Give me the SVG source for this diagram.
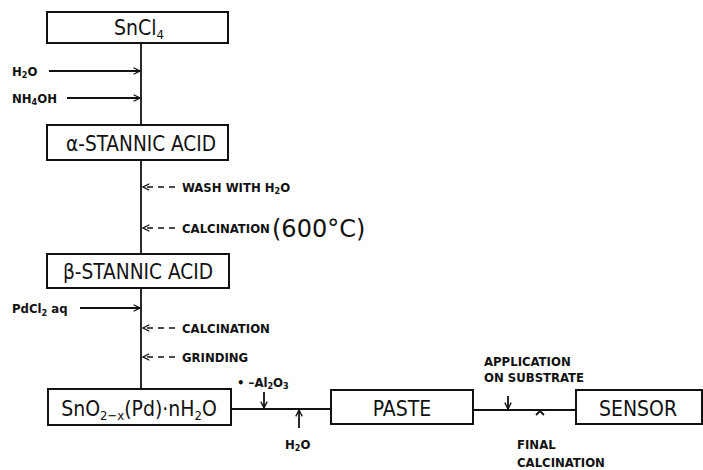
<svg xmlns="http://www.w3.org/2000/svg" width="703" height="470" viewBox="0 0 703 470">
<style>
.box{fill:#fff;stroke:#111;stroke-width:2}
.ln{stroke:#111;stroke-width:1.8;fill:none}
.dash{stroke:#111;stroke-width:1.6;fill:none;stroke-dasharray:6,5}
.bt{font-family:"DejaVu Sans Condensed","DejaVu Sans",sans-serif;font-size:21px;fill:#111;text-anchor:middle}
.lt{font-family:"DejaVu Sans Condensed","DejaVu Sans",sans-serif;font-size:13px;font-weight:bold;fill:#111}
.hw{font-family:"DejaVu Sans","Liberation Sans",sans-serif;font-size:24px;fill:#111}
</style>
<defs>
<marker id="ah" viewBox="0 0 10 10" refX="9" refY="5" markerWidth="8" markerHeight="8" markerUnits="userSpaceOnUse" orient="auto">
<path d="M1,1 L9,5 L1,9" fill="none" stroke="#111" stroke-width="1.6"/>
</marker>
</defs>
<g id="connectors">
<line class="ln" x1="141" y1="43" x2="141" y2="125"/>
<line class="ln" x1="141" y1="160" x2="141" y2="254"/>
<line class="ln" x1="141" y1="288" x2="141" y2="389"/>
<line class="ln" x1="231" y1="409" x2="331" y2="409"/>
<line class="ln" x1="473" y1="410" x2="576" y2="410"/>
<line class="ln" x1="49" y1="71" x2="140" y2="71" marker-end="url(#ah)"/>
<line class="ln" x1="67" y1="98" x2="140" y2="98" marker-end="url(#ah)"/>
<line class="ln" x1="80" y1="308" x2="140" y2="308" marker-end="url(#ah)"/>
<line class="dash" x1="175" y1="187" x2="143" y2="187" marker-end="url(#ah)"/>
<line class="dash" x1="175" y1="228" x2="143" y2="228" marker-end="url(#ah)"/>
<line class="dash" x1="175" y1="328" x2="143" y2="328" marker-end="url(#ah)"/>
<line class="dash" x1="175" y1="357" x2="143" y2="357" marker-end="url(#ah)"/>
<line class="ln" x1="264" y1="392" x2="264" y2="408" marker-end="url(#ah)"/>
<line class="ln" x1="299" y1="428" x2="299" y2="410" marker-end="url(#ah)"/>
<line class="ln" x1="508" y1="396" x2="508" y2="409" marker-end="url(#ah)"/>
<path class="ln" d="M536,415 L540,411 L544,415"/>
</g>
<g id="n_sncl4">
<rect class="box" x="47" y="12" width="181" height="31"/>
<text class="bt" x="139" y="35">SnCl<tspan font-size="13" dy="4">4</tspan></text>
</g>
<g id="n_alpha">
<rect class="box" x="47" y="125" width="181" height="35"/>
<text class="bt" x="141" y="151" textLength="150" lengthAdjust="spacingAndGlyphs">α-STANNIC ACID</text>
</g>
<g id="n_beta">
<rect class="box" x="47" y="254" width="182" height="34"/>
<text class="bt" x="138" y="279" textLength="150" lengthAdjust="spacingAndGlyphs">β-STANNIC ACID</text>
</g>
<g id="n_sno2">
<rect class="box" x="48" y="389" width="183" height="36"/>
<text class="bt" x="139" y="416" font-size="20">SnO<tspan font-size="13" dy="4">2−x</tspan><tspan dy="-4">(Pd)·nH</tspan><tspan font-size="13" dy="4">2</tspan><tspan dy="-4">O</tspan></text>
</g>
<g id="n_paste">
<rect class="box" x="331" y="390" width="142" height="34"/>
<text class="bt" x="402" y="416">PASTE</text>
</g>
<g id="n_sensor">
<rect class="box" x="576" y="390" width="126" height="34"/>
<text class="bt" x="638" y="416">SENSOR</text>
</g>
<g id="labels">
<text class="lt" x="12" y="76">H<tspan font-size="9" dy="2">2</tspan><tspan dy="-2">O</tspan></text>
<text class="lt" x="12" y="103">NH<tspan font-size="9" dy="2">4</tspan><tspan dy="-2">OH</tspan></text>
<text class="lt" x="182" y="192">WASH WITH H<tspan font-size="9" dy="2">2</tspan><tspan dy="-2">O</tspan></text>
<text class="lt" x="182" y="233">CALCINATION</text>
<text class="hw" x="272" y="237">(600°C)</text>
<text class="lt" x="12" y="313">PdCl<tspan font-size="9" dy="3">2</tspan><tspan dy="-3"> aq</tspan></text>
<text class="lt" x="182" y="333">CALCINATION</text>
<text class="lt" x="182" y="362">GRINDING</text>
<text class="lt" x="237" y="387">• –Al<tspan font-size="9" dy="2">2</tspan><tspan dy="-2">O</tspan><tspan font-size="9" dy="2">3</tspan></text>
<text class="lt" x="285" y="449">H<tspan font-size="9" dy="2">2</tspan><tspan dy="-2">O</tspan></text>
<text class="lt" x="484" y="366">APPLICATION</text>
<text class="lt" x="484" y="382">ON SUBSTRATE</text>
<text class="lt" x="517" y="449">FINAL</text>
<text class="lt" x="517" y="467">CALCINATION</text>
</g>
</svg>
